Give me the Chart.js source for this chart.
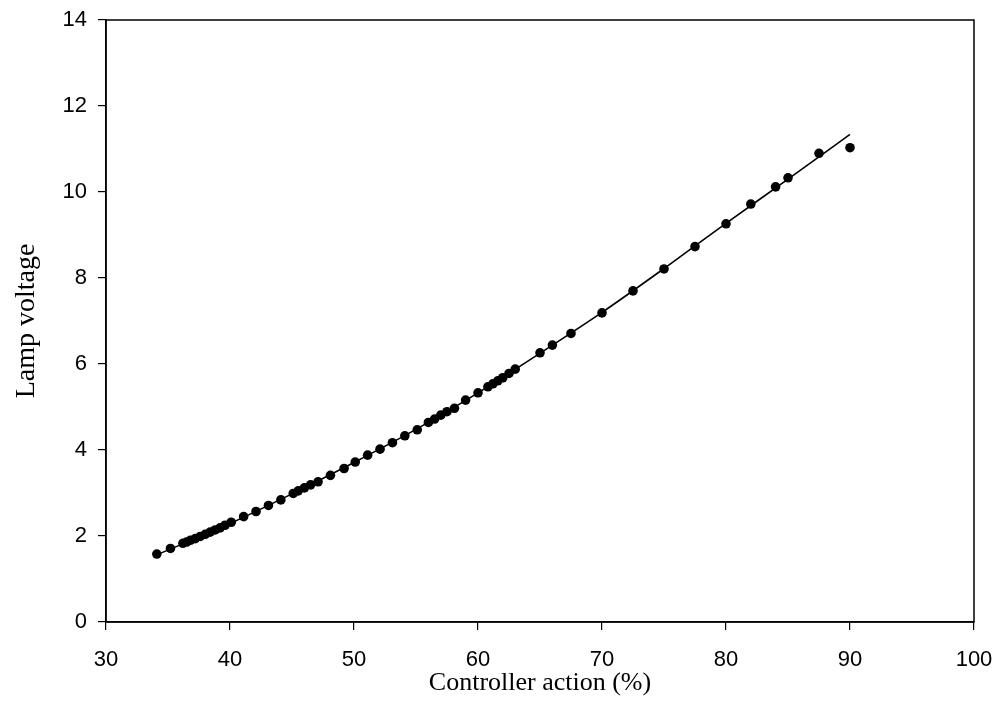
<!DOCTYPE html>
<html>
<head>
<meta charset="utf-8">
<script src="https://cdn.jsdelivr.net/npm/chart.js@4"></script>
<style>
  html, body { margin: 0; padding: 0; background: #fff; }
  #wrap { width: 1001px; height: 727px; }
</style>
</head>
<body>
<div id="wrap"><canvas id="c" width="1001" height="727"></canvas></div>
<script>
// Measured data points
const controllerAction = [34.1, 35.2, 36.2, 36.5, 36.8, 37.2, 37.6, 38.0, 38.4, 38.8, 39.2, 39.6, 40.1,
  41.1, 42.1, 43.1, 44.1, 45.1, 45.5, 46.0, 46.5, 47.1, 48.1, 49.2, 50.1, 51.1, 52.1, 53.1, 54.1, 55.1,
  56.0, 56.5, 57.0, 57.5, 58.1, 59.0, 60.0, 60.8, 61.2, 61.6, 62.0, 62.5, 63.0,
  65.0, 66.0, 67.5, 70.0, 72.5, 75.0, 77.5, 80.0, 82.0, 84.0, 85.0, 87.5, 90.0];
const lampVoltage = [1.58, 1.71, 1.83, 1.86, 1.90, 1.94, 1.99, 2.04, 2.09, 2.14, 2.19, 2.25, 2.32,
  2.45, 2.57, 2.71, 2.84, 2.99, 3.05, 3.12, 3.19, 3.26, 3.41, 3.57, 3.72, 3.88, 4.02, 4.17, 4.33, 4.47,
  4.64, 4.72, 4.81, 4.89, 4.97, 5.16, 5.33, 5.47, 5.54, 5.61, 5.68, 5.78, 5.88,
  6.26, 6.44, 6.71, 7.19, 7.70, 8.21, 8.73, 9.26, 9.72, 10.12, 10.33, 10.90, 11.03];
// Fitted curve
const fitX = [34, 40, 45, 50, 55, 60, 65, 70, 75, 80, 85, 90];
const fitY = [1.55, 2.29, 2.98, 3.71, 4.48, 5.33, 6.25, 7.20, 8.22, 9.27, 10.30, 11.34];
// Axis settings
const xMin = 30, xMax = 100, xStep = 10;
const yMin = 0, yMax = 14, yStep = 2;

const pts = controllerAction.map((x, i) => ({x: x, y: lampVoltage[i]}));
const fit = fitX.map((x, i) => ({x: x, y: fitY[i]}));

const frame = {
  id: 'frame',
  afterDatasetsDraw(chart) {
    const a = chart.chartArea, ctx = chart.ctx;
    ctx.save();
    ctx.strokeStyle = '#000';
    ctx.lineWidth = 1.5;
    ctx.strokeRect(a.left, a.top, a.right - a.left, a.bottom - a.top);
    ctx.restore();
  }
};

new Chart(document.getElementById('c'), {
  type: 'scatter',
  data: {
    datasets: [
      { data: fit, showLine: true, borderColor: '#000', borderWidth: 1.6, pointRadius: 0,
        tension: 0.4, cubicInterpolationMode: 'monotone', fill: false },
      { data: pts, backgroundColor: '#000', borderColor: '#000', pointRadius: 4.8, pointBorderWidth: 0 }
    ]
  },
  plugins: [frame],
  options: {
    responsive: false,
    animation: false,
    devicePixelRatio: 1,
    layout: { padding: { top: 20, right: 27, left: 0, bottom: 0 } },
    plugins: { legend: { display: false }, tooltip: { enabled: false } },
    scales: {
      x: {
        type: 'linear', min: xMin, max: xMax,
        ticks: { stepSize: xStep, color: '#000', padding: 17,
          font: { family: '"Liberation Sans", Arial, sans-serif', size: 22 } },
        grid: { display: true, drawOnChartArea: false, drawTicks: true, tickLength: 8, color: '#000', lineWidth: 1.2 },
        border: { display: true, color: '#000', width: 1.5 },
        title: { display: true, text: 'Controller action (%)', color: '#000',
          font: { family: '"Liberation Serif", "Times New Roman", serif', size: 26 },
          padding: { top: 0, bottom: 28 } },
        afterFit(s) { s.height = 105; s.paddingLeft = 0; s.paddingRight = 0; }
      },
      y: {
        type: 'linear', min: yMin, max: yMax,
        ticks: { stepSize: yStep, color: '#000', padding: 11,
          font: { family: '"Liberation Sans", Arial, sans-serif', size: 22 } },
        grid: { display: true, drawOnChartArea: false, drawTicks: true, tickLength: 8, color: '#000', lineWidth: 1.2 },
        border: { display: true, color: '#000', width: 1.5 },
        title: { display: true, text: 'Lamp voltage', color: '#000',
          font: { family: '"Liberation Serif", "Times New Roman", serif', size: 28 },
          padding: { top: 10, bottom: 0 } },
        afterFit(s) { s.width = 106; s.paddingTop = 0; s.paddingBottom = 0; }
      }
    }
  }
});
</script>
</body>
</html>
